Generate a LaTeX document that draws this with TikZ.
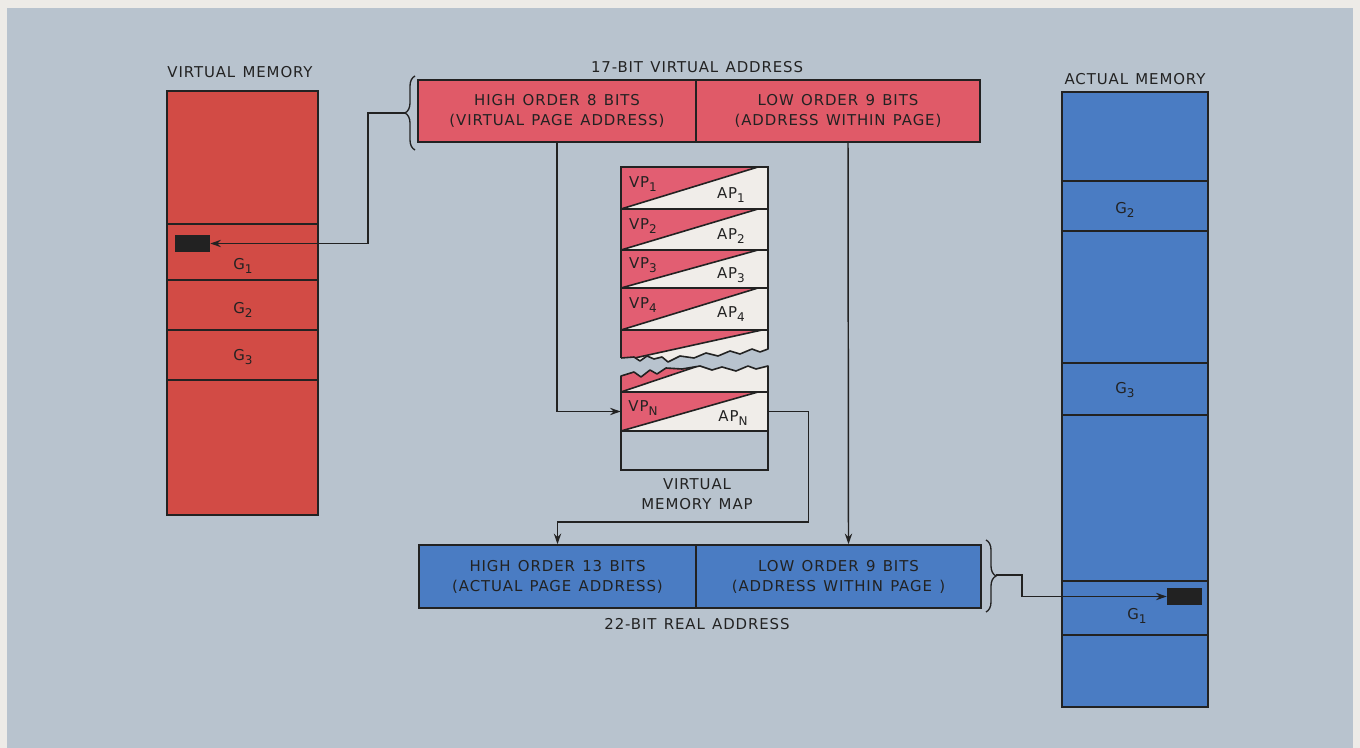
\documentclass[tikz,border=0pt]{standalone}
\usepackage{fontspec}
\setmainfont{DejaVu Sans}
\newfontfamily\lettering[LetterSpace=6,WordSpace=1.3]{DejaVu Sans}
\usetikzlibrary{arrows.meta,fit,decorations.pathreplacing,calc}
\definecolor{bg}{HTML}{B8C3CE}
\definecolor{framecol}{HTML}{EDEBE7}
\definecolor{vmred}{HTML}{D24B45}
\definecolor{addrpink}{HTML}{E05A68}
\definecolor{mappink}{HTML}{E25E72}
\definecolor{mapwhite}{HTML}{F0EDE9}
\definecolor{amblue}{HTML}{4A7CC3}
\definecolor{ink}{HTML}{222222}
\newcommand\lsub[1]{\raisebox{-0.45ex}{\fontsize{9}{9}\selectfont #1}}
\newcommand\maprowfill[2]{%
  \fill[mapwhite] (621,#1) rectangle (768,#2);
  \fill[mappink] (621,#2) -- (621,#1) -- (758,#1) -- cycle;
  \draw[div] (621,#2) -- (758,#1);
  \draw[div] (621,#1) rectangle (768,#2);
}
\begin{document}
\begin{tikzpicture}[x=0.75pt,y=-0.75pt,
  box/.style={draw=ink, line width=1.2pt, inner sep=0pt},
  div/.style={draw=ink, line width=1.2pt},
  lab/.style={font=\lettering\fontsize{11.2}{15}\selectfont, text=ink, align=center, inner sep=0pt},
  conn/.style={draw=ink, line width=1.1pt},
  arr/.style={conn, -{Stealth[length=8pt,width=5.5pt]}},
  blk/.style={fill=ink, inner sep=0pt},
  brc/.style={draw=ink, line width=1pt, decorate, decoration={brace,amplitude=7.5pt}}
]
\useasboundingbox (0,0) rectangle (1360,748);
\fill[framecol] (0,0) rectangle (1360,748);
\fill[bg] (7,8) rectangle (1353,748);

% ---------------- Virtual memory
\node[lab] (vmlab) at (240,72) {VIRTUAL MEMORY};
\node[box, fill=vmred, fit={(167,91) (318,515)}] (vm) {};
\foreach \yy in {224,280,330,380} \draw[div] (167,\yy) -- (318,\yy);
\node[blk, fit={(175,235) (210,252)}] (vblk) {};
\node[lab] (vg1) at (243,266) {G\lsub{1}};
\node[lab] (vg2) at (243,310) {G\lsub{2}};
\node[lab] (vg3) at (243,357) {G\lsub{3}};

% ---------------- 17-bit virtual address
\node[lab] (vatitle) at (697,67) {17-BIT VIRTUAL ADDRESS};
\node[box, fill=addrpink, fit={(418,80) (696,142)}] (hi8) {};
\node[box, fill=addrpink, fit={(696,80) (980,142)}] (lo9) {};
\node[lab] (hi8t) at (hi8.center) {HIGH ORDER 8 BITS\\(VIRTUAL PAGE ADDRESS)};
\node[lab] (lo9t) at (lo9.center) {LOW ORDER 9 BITS\\(ADDRESS WITHIN PAGE)};
\draw[brc] (415,150) -- (415,76);
\coordinate (vbt) at (405,113);

% ---------------- Virtual memory map
\maprowfill{167}{209}
\maprowfill{209}{250}
\maprowfill{250}{288}
\maprowfill{288}{330}
% torn upper fragment
\begin{scope}
\clip (621,330) -- (768,330) -- (768,349) -- (760,352) -- (752,349) -- (740,354) -- (730,351) -- (718,356) -- (706,353) -- (694,358) -- (680,356) -- (668,362) -- (662,357) -- (654,359) -- (647,356) -- (640,361) -- (634,357) -- (621,358) -- cycle;
\fill[mapwhite] (610,320) rectangle (780,380);
\fill[mappink] (621,361) -- (621,330) -- (762,330) -- cycle;
\draw[div] (621,361) -- (762,330);
\end{scope}
\draw[div, line join=round] (621,358) -- (621,330) -- (768,330) -- (768,349) -- (760,352) -- (752,349) -- (740,354) -- (730,351) -- (718,356) -- (706,353) -- (694,358) -- (680,356) -- (668,362) -- (662,357) -- (654,359) -- (647,356) -- (640,361) -- (634,357) -- (621,358);
% torn lower fragment
\begin{scope}
\clip (621,376) -- (634,372) -- (641,377) -- (650,370) -- (657,374) -- (666,368) -- (682,369) -- (700,366) -- (712,370) -- (722,367) -- (736,371) -- (748,366) -- (756,369) -- (768,366) -- (768,392) -- (621,392) -- cycle;
\fill[mapwhite] (610,360) rectangle (780,395);
\fill[mappink] (621,392) -- (716,360) -- (621,360) -- cycle;
\draw[div] (621,392) -- (716,360);
\end{scope}
\draw[div, line join=round] (621,392) -- (621,376) -- (634,372) -- (641,377) -- (650,370) -- (657,374) -- (666,368) -- (682,369) -- (700,366) -- (712,370) -- (722,367) -- (736,371) -- (748,366) -- (756,369) -- (768,366) -- (768,392);
\maprowfill{392}{431}
\node[inner sep=0pt, fit={(621,392) (768,431)}] (mapN) {};
\node[box, fit={(621,431) (768,470)}] (mapE) {};

\node[lab] (vp1) at (643,184) {VP\lsub{1}};
\node[lab] (ap1) at (731,195) {AP\lsub{1}};
\node[lab] (vp2) at (643,226) {VP\lsub{2}};
\node[lab] (ap2) at (731,236) {AP\lsub{2}};
\node[lab] (vp3) at (643,265) {VP\lsub{3}};
\node[lab] (ap3) at (731,275) {AP\lsub{3}};
\node[lab] (vp4) at (643,305) {VP\lsub{4}};
\node[lab] (ap4) at (731,314) {AP\lsub{4}};
\node[lab] (vpn) at (643,408) {VP\lsub{N}};
\node[lab] (apn) at (733,418) {AP\lsub{N}};
\node[lab] (maplab) at (697,494) {VIRTUAL\\MEMORY MAP};

% ---------------- 22-bit real address
\node[box, fill=amblue, fit={(419,545) (696,608)}] (hi13) {};
\node[box, fill=amblue, fit={(696,545) (981,608)}] (lo9r) {};
\node[lab] (hi13t) at (hi13.center) {HIGH ORDER 13 BITS\\(ACTUAL PAGE ADDRESS)};
\node[lab] (lo9rt) at (lo9r.center) {LOW ORDER 9 BITS\\(ADDRESS WITHIN PAGE )};
\node[lab] (ratitle) at (697,624) {22-BIT REAL ADDRESS};
\draw[brc] (986,540) -- (986,612);
\coordinate (rbt) at (996,575);

% ---------------- Actual memory
\node[lab] (amlab) at (1135,79) {ACTUAL MEMORY};
\node[box, fill=amblue, fit={(1062,92) (1208,707)}] (am) {};
\foreach \yy in {181,231,363,415,581,635} \draw[div] (1062,\yy) -- (1208,\yy);
\node[lab] (ag2) at (1125,210) {G\lsub{2}};
\node[lab] (ag3) at (1125,390) {G\lsub{3}};
\node[lab] (ag1) at (1137,616) {G\lsub{1}};
\node[blk, fit={(1167,588) (1202,605)}] (ablk) {};

% ---------------- Connectors
\draw[arr] (vbt) -- (368,113) |- (vblk.east);
\draw[arr] (hi8.south) |- (mapN.west);
\draw[arr] ($(lo9.south)+(10,0)$) -- ($(lo9r.north)+(10,0)$);
\draw[arr] (mapN.east) -- ++(40,0) |- ($(hi13.north)+(0,-22)$) -- (hi13.north);
\draw[arr] (rbt) -- (1022,575) |- (ablk.west);
\end{tikzpicture}
\end{document}
